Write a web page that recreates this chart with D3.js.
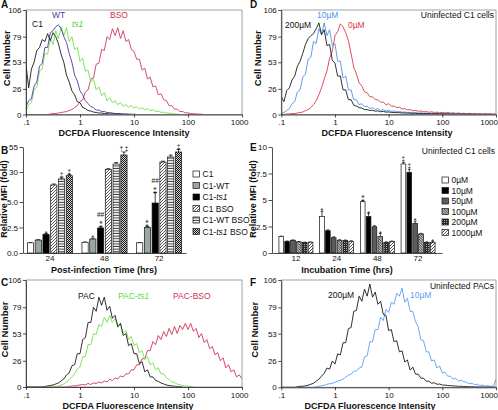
<!DOCTYPE html>
<html>
<head>
<meta charset="utf-8">
<script src="https://cdn.jsdelivr.net/npm/d3@7/dist/d3.min.js"></script>
<style>
html,body{margin:0;padding:0;background:#fff;}
svg{display:block;}
text{font-family:"Liberation Sans",Arial,Helvetica,sans-serif;}
</style>
</head>
<body>
<svg id="fig" width="498" height="410" viewBox="0 0 498 410"></svg>
<script>
// ================= DATA =================
const histXTicks = [0.1, 1, 10, 100, 1000];
const histXTickLabels = [".1", "1", "10", "100", "1000"];
const histYTicks = [0, 26, 53, 79, 106];
// acquisition channels, 0.05 decade apart, from 0.1 upward (log10 units)
const channelLog = d3.range(81).map(i => -1 + i * 0.05);

// Panel A (cell counts per channel)
const A_C1 = [50,27,46,53,65,68,76,74,82,75, 83,79,72,61,53,40,33,24,20,13, 12,7,6,4,3.5,2.5,2,1.5,1.5,1, 0.8,0.6,0.5,0.5,0.3,0.3,0.2,0.2,0];
const A_WT = [8,14,16,29,33,49,52,68,68,83, 85,89,91,87,79,73,62,53,40,34, 24,20,14,11,8,7,4.5,4.5,3,3, 2,2,1.5,1,1,1,0.5,0.5,0.5,0.3, 0.3,0];
const A_ts1 = [3,10,12,25,28,44,46,62,61,77, 71,85,77,89,80,88,74,79,66,68, 54,57,44,45,33,36,25,28,19,22, 14,17,12,14,10,12,8.5,10,7.5,9, 6.5,8,5.5,7,4.8,6,4,5,3,3.5, 2.2,2.4,1.5,1.4,0.8,0.6,0.3,0];
const A_BSO = [0,0,0,0,0,0,0,0,0,0.5, 1,1,1.5,2,2.5,3,4,5,7,9, 13,15,23,25,36,37,51,52,66,65, 79,76,87,80,88,77,85,74,76,66, 64,56,56,45,47,36,38,28,29,20, 21,15,14,9,9,5.5,5.5,3,3,1.8, 1.6,1,0.8,0.6,0.4,0.3,0];

// Panel D
const D_200 = [18,13,24,27,35,39,49,54,62,71, 77,80,82,87,93,81,86,70,71,55, 52,39,39,25,25,15,15,9.5,8.5,7, 6.5,5,5,4,4.3,3.3,3.7,2.8,3.2,2.4, 2.6,2.1,2.1,1.9,1.9,1.5,1.6,1.4,1.4,1.1, 1.3,0.9,1.1,0.9,1,0.7,0.9,0.6,0.8,0.5, 0.7,0.4,0.6,0.4,0.5,0.3,0.5,0.3,0.4,0.2, 0.4,0.2,0.3,0.1,0.3,0.1,0.2,0.1,0.2,0.1,0];
const D_10 = [1,2,4,6,11,13,23,25,38,41, 56,58,74,72,87,81,93,80,86,70, 72,54,54,37,39,25,25,15,15,10, 11,8,8.5,6,7,5,6,4,5,3.6, 4.3,3.2,3.5,2.8,3,2.4,2.6,2,2.2,1.8, 1.9,1.5,1.6,1.3,1.4,1.1,1.2,0.9,1.1,0.8, 1,0.7,0.9,0.6,0.8,0.5,0.7,0.4,0.6,0.4, 0.5,0.3,0.5,0.2,0.4,0.2,0.3,0.1,0.3,0.1,0];
const D_0 = [0,0,0.5,0.5,1,1,1.5,2,2.5,4, 5,7,10,14,20,27,36,44,57,64, 80,84,92,89,83,75,62,48,41,32, 29,23,22,18,18,15,15,12.5,12.5,10, 11,8.5,8.5,7,7.4,5.6,6,4.6,5,3.8, 4.2,3.3,3.6,2.7,3,2.3,2.7,2.1,2.4,1.8, 2.2,1.6,2,1.4,1.7,1.2,1.5,1,1.3,0.8, 1.2,0.7,1,0.6,0.9,0.5,0.8,0.5,0.7,0.4,0.5];

// Panel C
const C_PAC = [0,0,0,0,0,0,0,0.5,1,1.5, 2,3,4,6,8,12,14,21,22,33, 33,47,49,64,64,79,75,89,81,89, 76,80,68,71,60,63,51,53,41,43, 33,33,23,25,15,17,10,10,6.5,5.5, 4,3,2,1.5,1,0.8,0.5,0.3,0];
const C_ts1 = [0,0,0,0,0,0,0,0,0,0, 0,0.5,1,2,3,5,7,10,13,18, 20,30,30,42,42,53,52,62,60,69, 64,71,64,68,59,63,53,56,47,50, 41,43,34,36,27,30,22,24,17,19, 13,13,9,7.5,5,4.5,2.8,2.2,1.5,1, 0.7,0.5,0];
const C_BSO = [0,0,0,0,0,0,0,0,0,0, 0,0,0,0,0,0,0.5,1,1,1.5, 2,2.5,2,3.5,2.5,4,3.5,5,4,6, 5,7.5,6.5,9,8,11,10,13,13,17, 17,22,22,28,28,36,36,45,42,51, 47,55,50,58,52,60,53,61,57,63, 57,63,55,58,49,53,44,47,38,40, 32,34,26,29,19,22,15,17,10,12,8];

// Panel F
const F_200 = [0,0,0,0,0,0,0.5,1,1,1.5, 2,3,4,6,8,11,14,19,18,26, 23,33,32,44,44,58,59,75,76,90, 85,97,90,102,89,94,82,85,72,71, 56,57,45,46,35,36,25,27,17,20, 13,13,9,9,6,6,4,4.5,3,3.2, 2.2,2.2,1.7,1.7,1.3,1.3,0.9,1.1,0.7,0.8, 0.5,0.6,0.4,0.5,0.3,0.4,0.2,0.3,0.2,0.2,0.2];
const F_10 = [0,0,0,0,0,0,0,0,0,0, 0,0,0,0.5,1,1.5,2,3,3.5,4, 5,6,7,8,10,12,13,16,16,19, 20,30,31,45,45,57,57,69,66,77, 74,84,82,93,90,98,84,88,75,75, 65,60,47,46,35,35,26,27,19,21, 14,15,11,11,8,9,6,7,5.5,5, 3.5,4,2.5,3,1.8,2.2,1.2,1.7,0.8,1.2,8];

// Panel B (relative MFI, fold)
const B_groups = ["24", "48", "72"];
const B_names = ["C1", "C1-WT", "C1-ts1", "C1 BSO", "C1-WT BSO", "C1-ts1 BSO"];
const B_C1 = [1.0, 1.05, 1.0];
const B_C1WT = [1.27, 1.37, 2.5];
const B_C1ts1 = [1.83, 2.45, 4.9];
const B_C1BSO = [19.2, 32.7, 40];
const B_C1WTBSO = [24.2, 38, 45];
const B_C1ts1BSO = [26.9, 47, 50];
const B_errC1 = [0.02, 0.03, 0.02];
const B_errC1WT = [0.03, 0.08, 0.1];
const B_errC1ts1 = [0.08, 0.12, 8];
const B_errC1BSO = [0.8, 0.6, 0.8];
const B_errC1WTBSO = [1, 1.5, 2];
const B_errC1ts1BSO = [1, 3, 2.5];
const B_yTicks = [0, 2.5, 5, 30, 55];
const B_yTickLabels = ["0.0", "2.5", "5.0", "30", "55"];
const B_notes = [
  {s: 2, g: 0, t: ["*"]}, {s: 4, g: 0, t: ["‡"]}, {s: 5, g: 0, t: ["‡"]},
  {s: 1, g: 1, t: ["*"]}, {s: 2, g: 1, t: ["##", "\u2051"]}, {s: 5, g: 1, t: ["† ‡"]},
  {s: 1, g: 2, t: ["\u2051"]}, {s: 2, g: 2, t: ["##", "\u2051"]}, {s: 5, g: 2, t: ["‡"]}
];

// Panel E
const E_groups = ["12", "24", "48", "72"];
const E_names = ["0\u00b5M", "10\u00b5M", "50\u00b5M", "100\u00b5M", "200\u00b5M", "1000\u00b5M"];
const E_0 = [1.56, 3.44, 4.84, 8.4];
const E_10 = [1.1, 2.1, 3.44, 7.6];
const E_50 = [1.2, 1.44, 2.47, 2.8];
const E_100 = [1.05, 1.2, 1.55, 1.8];
const E_200 = [1.0, 1.17, 1.0, 1.0];
const E_1000 = [1.02, 1.1, 1.08, 1.0];
const E_err0 = [0.03, 0.5, 0.1, 0.15];
const E_err10 = [0.03, 0.08, 0.3, 0.3];
const E_err50 = [0.03, 0.08, 0.1, 0.2];
const E_err100 = [0.03, 0.05, 0.3, 0.05];
const E_err200 = [0.02, 0.05, 0.05, 0.05];
const E_err1000 = [0.02, 0.05, 0.05, 0.1];
const E_yTicks = [0, 2.5, 5, 7.5, 10];
const E_yTickLabels = ["0", "2.5", "5", "7.5", "10"];
const E_notes = [
  {s: 0, g: 1, t: ["*"]}, {s: 0, g: 2, t: ["\u2051"]}, {s: 1, g: 2, t: ["*"]}, {s: 3, g: 2, t: ["*"]},
  {s: 0, g: 3, t: ["‡"]}, {s: 1, g: 3, t: ["‡"]}, {s: 2, g: 3, t: ["*"]}, {s: 5, g: 3, t: ["*"]}
];

// ================= DRAWING =================
const svg = d3.select("#fig");
const defs = svg.append("defs");

function pat(id, w, h, bg, draw) {
  const p = defs.append("pattern").attr("id", id).attr("patternUnits", "userSpaceOnUse").attr("width", w).attr("height", h);
  p.append("rect").attr("width", w).attr("height", h).attr("fill", bg);
  draw(p);
}
pat("pHatchB", 3, 3, "#fff", p => p.append("path").attr("d", "M-1,1 L1,-1 M0,3 L3,0 M2,4 L4,2").attr("stroke", "#444").attr("stroke-width", 0.9));
pat("pHoriz", 3, 2.6, "#fff", p => p.append("rect").attr("x", 0).attr("y", 1.6).attr("width", 3).attr("height", 0.9).attr("fill", "#222"));
pat("pCheck", 2, 2, "#d8d8d8", p => { p.append("rect").attr("width", 1).attr("height", 1).attr("fill", "#111"); p.append("rect").attr("x", 1).attr("y", 1).attr("width", 1).attr("height", 1).attr("fill", "#111"); });
pat("pDiagDark", 2.5, 2.5, "#fff", p => p.append("path").attr("d", "M-1,-1 L3.5,3.5 M-1,1.5 L1,3.5 M1.5,-1 L3.5,1").attr("stroke", "#222").attr("stroke-width", 0.9));
pat("pDots", 2, 2, "#2a2a2a", p => p.append("rect").attr("width", 1).attr("height", 1).attr("fill", "#aaa"));
pat("pHatchE", 3, 3, "#fff", p => p.append("path").attr("d", "M-1,1 L1,-1 M0,3 L3,0 M2,4 L4,2").attr("stroke", "#555").attr("stroke-width", 1));

function txt(g, x, y, s, o = {}) {
  const t = g.append("text").attr("x", x).attr("y", y).text(s)
    .attr("font-size", o.size || 8.5).attr("fill", o.color || "#111")
    .attr("text-anchor", o.anchor || "start");
  if (o.bold) t.attr("font-weight", "bold");
  if (o.rotate) t.attr("transform", `rotate(-90,${x},${y})`);
  return t;
}

function styleAxis(a, size) {
  a.selectAll("text").attr("font-size", size).attr("fill", "#111").attr("font-family", '"Liberation Sans",Arial,sans-serif');
  a.selectAll("line").attr("stroke", "#222").attr("stroke-width", 0.8);
  a.select(".domain").attr("stroke", "#222").attr("stroke-width", 0.8);
}

function histPanel(p) {
  const x = d3.scaleLog().domain([0.1, 1000]).range([p.x0, p.x1]);
  const y = d3.scaleLinear().domain([0, 106]).range([p.yBot, p.yTop]);
  const g = svg.append("g");
  const cid = "clip" + p.id;
  defs.append("clipPath").attr("id", cid).append("rect")
    .attr("x", p.x0).attr("y", p.yTop - 3).attr("width", p.x1 - p.x0).attr("height", p.yBot - p.yTop + 3);
  const line = d3.line().x((d, i) => x(Math.pow(10, channelLog[i]))).y(d => y(d));
  const cg = g.append("g").attr("clip-path", `url(#${cid})`);
  p.curves.forEach(c => cg.append("path").attr("d", line(c.values)).attr("fill", "none")
    .attr("stroke", c.color).attr("stroke-width", 0.9).attr("stroke-linejoin", "miter"));
  g.append("rect").attr("x", p.x0).attr("y", p.yTop).attr("width", p.x1 - p.x0).attr("height", p.yBot - p.yTop)
    .attr("fill", "none").attr("stroke", "#8a8a8a").attr("stroke-width", 0.8);
  const ya = g.append("g").attr("transform", `translate(${p.x0},0)`)
    .call(d3.axisLeft(y).tickValues(histYTicks).tickSize(3).tickSizeOuter(0).tickPadding(1.5));
  styleAxis(ya, 8);
  const xa = g.append("g").attr("transform", `translate(0,${p.yBot})`)
    .call(d3.axisBottom(x).tickValues(histXTicks).tickFormat((d, i) => histXTickLabels[i]).tickSize(3).tickSizeOuter(0).tickPadding(2));
  styleAxis(xa, 8);
  xa.selectAll(".tick text").filter(d => d === 1000).attr("text-anchor", "end").attr("dx", p.lastDx);
  txt(g, p.titleX, p.titleY, "DCFDA Fluorescence Intensity", {bold: true, size: 9, anchor: "middle"});
  txt(g, p.ylabX, (p.yTop + p.yBot) / 2 - 4, "Cell Number", {bold: true, size: 9.5, anchor: "middle", rotate: true});
  txt(g, p.letterX, p.letterY, p.letter, {bold: true, size: 10});
  p.labels.forEach(l => {
    const t = txt(g, l.x, l.y, "", {size: 8.5, color: l.color, anchor: l.anchor || "start"});
    l.parts.forEach(pt => t.append("tspan").text(pt[0]).attr("font-style", pt[1] ? "italic" : null));
  });
}

function barPanel(p) {
  const g = svg.append("g");
  const xg = d3.scaleBand().domain(p.groups).range(p.xRange).paddingInner(p.padIn).paddingOuter(p.padOut);
  const xs = d3.scaleBand().domain(p.series.map(s => s.name)).range([0, xg.bandwidth()]).paddingInner(0.2);
  const y = p.y;
  const bw = xs.bandwidth();
  p.series.forEach(s => {
    p.groups.forEach((gr, j) => {
      const v = s.values[j];
      const bx = xg(gr) + xs(s.name);
      if (s.err[j] > 0) {
        const ty = y(v + s.err[j]);
        g.append("line").attr("x1", bx + bw / 2).attr("x2", bx + bw / 2).attr("y1", y(v)).attr("y2", ty).attr("stroke", "#111").attr("stroke-width", 0.8);
        g.append("line").attr("x1", bx + bw * 0.2).attr("x2", bx + bw * 0.8).attr("y1", ty).attr("y2", ty).attr("stroke", "#111").attr("stroke-width", 0.8);
      }
      g.append("rect").attr("x", bx).attr("y", y(v)).attr("width", bw).attr("height", y(0) - y(v))
        .attr("fill", s.fill).attr("stroke", "#111").attr("stroke-width", 0.7);
    });
  });
  // significance marks above error bars; stacked rows kept clear of each other
  p.notes.forEach(n => {
    const s = p.series[n.s], gr = p.groups[n.g];
    const cx = xg(gr) + xs(s.name) + bw / 2;
    let cur = y(s.values[n.g] + s.err[n.g]) - 1;
    n.t.slice().reverse().forEach(line => {
      if (line === "*") { txt(g, cx, cur + 3.2, line, {size: 7, anchor: "middle"}); cur -= 5.5; }
      else if (line === "\u2051") { txt(g, cx, cur, line, {size: 7, anchor: "middle"}).attr("font-family", "DejaVu Sans"); cur -= 8.5; }
      else { txt(g, cx, cur, line, {size: 6.5, anchor: "middle"}); cur -= 7.5; }
    });
  });
  const ya = g.append("g").attr("transform", `translate(${p.xRange[0]},0)`)
    .call(d3.axisLeft(y).tickValues(p.yTicks).tickFormat((d, i) => p.yTickLabels[i]).tickSize(3.5).tickSizeOuter(0).tickPadding(1.5));
  styleAxis(ya, 8);
  const xa = g.append("g").attr("transform", `translate(0,${y(0)})`)
    .call(d3.axisBottom(xg).tickSize(0).tickSizeOuter(0).tickPadding(p.xPad));
  styleAxis(xa, 8);
  txt(g, p.titleX, p.titleY, p.title, {bold: true, size: 9, anchor: "middle"});
  txt(g, p.ylabX, p.ylabY, "Relative MFI (fold)", {bold: true, size: 9, anchor: "middle", rotate: true});
  txt(g, p.letterX, p.letterY, p.letter, {bold: true, size: 10});
  p.series.forEach((s, i) => {
    const yc = p.legY + i * p.legStep;
    g.append("rect").attr("x", p.legX).attr("y", yc - 3).attr("width", 6.5).attr("height", 6)
      .attr("fill", s.fill).attr("stroke", "#111").attr("stroke-width", 0.7);
    const t = txt(g, p.legX + 9.5, yc + 3.2, "", {size: 8.5});
    s.label.forEach(pt => t.append("tspan").text(pt[0]).attr("font-style", pt[1] ? "italic" : null));
  });
  if (p.note) txt(g, p.note.x, p.note.y, p.note.text, {size: 8.5, anchor: "end"});
}

// ---- Panel A ----
histPanel({
  id: "A", letter: "A", letterX: 1, letterY: 8, x0: 26, x1: 242, yTop: 10, yBot: 114.5,
  titleX: 124, titleY: 136, ylabX: 10, lastDx: 6,
  curves: [
    {values: A_BSO, color: "#d33a5c"},
    {values: A_ts1, color: "#6ee04c"},
    {values: A_WT, color: "#4b3c9e"},
    {values: A_C1, color: "#1a1a1a"}
  ],
  labels: [
    {x: 32, y: 27, color: "#111", parts: [["C1"]]},
    {x: 52, y: 18, color: "#5535a8", parts: [["WT"]]},
    {x: 72, y: 27, color: "#4fd22e", parts: [["ts1", true]]},
    {x: 110, y: 18, color: "#cc3348", parts: [["BSO"]]}
  ]
});

// ---- Panel D ----
histPanel({
  id: "D", letter: "D", letterX: 250, letterY: 8, x0: 281.3, x1: 496, yTop: 10, yBot: 114.5,
  titleX: 387, titleY: 136, ylabX: 261, lastDx: 1.5,
  curves: [
    {values: D_0, color: "#dd3a4c"},
    {values: D_10, color: "#4f94e8"},
    {values: D_200, color: "#1a1a1a"}
  ],
  labels: [
    {x: 285, y: 28, color: "#111", parts: [["200\u00b5M"]]},
    {x: 317, y: 18, color: "#4f94e8", parts: [["10\u00b5M"]]},
    {x: 348, y: 28, color: "#dd3344", parts: [["0\u00b5M"]]},
    {x: 494, y: 18, color: "#111", anchor: "end", parts: [["Uninfected C1 cells"]]}
  ]
});

// ---- Panel C ----
histPanel({
  id: "C", letter: "C", letterX: 1, letterY: 286, x0: 26, x1: 242, yTop: 280, yBot: 387,
  titleX: 128, titleY: 408.5, ylabX: 8, lastDx: 6,
  curves: [
    {values: C_BSO, color: "#cc3558"},
    {values: C_ts1, color: "#72e052"},
    {values: C_PAC, color: "#1a1a1a"}
  ],
  labels: [
    {x: 78, y: 299, color: "#111", parts: [["PAC"]]},
    {x: 118, y: 299, color: "#5fd83a", parts: [["PAC-"], ["ts1", true]]},
    {x: 173, y: 299, color: "#cc3355", parts: [["PAC-BSO"]]}
  ]
});

// ---- Panel F ----
histPanel({
  id: "F", letter: "F", letterX: 250, letterY: 286, x0: 281.3, x1: 496, yTop: 280, yBot: 387.3,
  titleX: 370, titleY: 408.5, ylabX: 258, lastDx: 1.5,
  curves: [
    {values: F_10, color: "#5a9ff0"},
    {values: F_200, color: "#1a1a1a"}
  ],
  labels: [
    {x: 328, y: 298, color: "#111", parts: [["200\u00b5M"]]},
    {x: 410, y: 298, color: "#5a9ff0", parts: [["10\u00b5M"]]},
    {x: 494, y: 289, color: "#111", anchor: "end", parts: [["Uninfected PACs"]]}
  ]
});

// ---- Panel B ----
const yB = d3.scaleLinear().domain([0, 2.5, 5, 30, 55]).range([253, 227.5, 202, 172, 147]);
barPanel({
  letter: "B", letterX: 1, letterY: 154,
  groups: B_groups, xRange: [23, 186], padIn: 0.174, padOut: 0.08, xPad: 2.5,
  y: yB, yTicks: B_yTicks, yTickLabels: B_yTickLabels,
  title: "Post-infection Time (hrs)", titleX: 104, titleY: 272.5, ylabX: 7, ylabY: 199,
  legX: 193, legY: 174, legStep: 11.5,
  notes: B_notes,
  series: [
    {name: B_names[0], label: [["C1"]], values: B_C1, err: B_errC1, fill: "#fff"},
    {name: B_names[1], label: [["C1-WT"]], values: B_C1WT, err: B_errC1WT, fill: "#9aa7a5"},
    {name: B_names[2], label: [["C1-"], ["ts1", true]], values: B_C1ts1, err: B_errC1ts1, fill: "#000"},
    {name: B_names[3], label: [["C1 BSO"]], values: B_C1BSO, err: B_errC1BSO, fill: "url(#pHatchB)"},
    {name: B_names[4], label: [["C1-WT BSO"]], values: B_C1WTBSO, err: B_errC1WTBSO, fill: "url(#pHoriz)"},
    {name: B_names[5], label: [["C1-"], ["ts1", true], [" BSO"]], values: B_C1ts1BSO, err: B_errC1ts1BSO, fill: "url(#pCheck)"}
  ]
});

// ---- Panel E ----
const yE = d3.scaleLinear().domain([0, 10]).range([253, 147]);
barPanel({
  letter: "E", letterX: 250, letterY: 151,
  groups: E_groups, xRange: [272, 442], padIn: 0.165, padOut: 0.17, xPad: 2.5,
  y: yE, yTicks: E_yTicks, yTickLabels: E_yTickLabels,
  title: "Incubation Time (hrs)", titleX: 347, titleY: 272.5, ylabX: 256, ylabY: 199,
  legX: 442, legY: 180, legStep: 10.5,
  notes: E_notes,
  note: {x: 495, y: 154, text: "Uninfected C1 cells"},
  series: [
    {name: E_names[0], label: [[E_names[0]]], values: E_0, err: E_err0, fill: "#fff"},
    {name: E_names[1], label: [[E_names[1]]], values: E_10, err: E_err10, fill: "#000"},
    {name: E_names[2], label: [[E_names[2]]], values: E_50, err: E_err50, fill: "#5c5c5c"},
    {name: E_names[3], label: [[E_names[3]]], values: E_100, err: E_err100, fill: "url(#pDiagDark)"},
    {name: E_names[4], label: [[E_names[4]]], values: E_200, err: E_err200, fill: "url(#pDots)"},
    {name: E_names[5], label: [[E_names[5]]], values: E_1000, err: E_err1000, fill: "url(#pHatchE)"}
  ]
});
</script>
</body>
</html>
